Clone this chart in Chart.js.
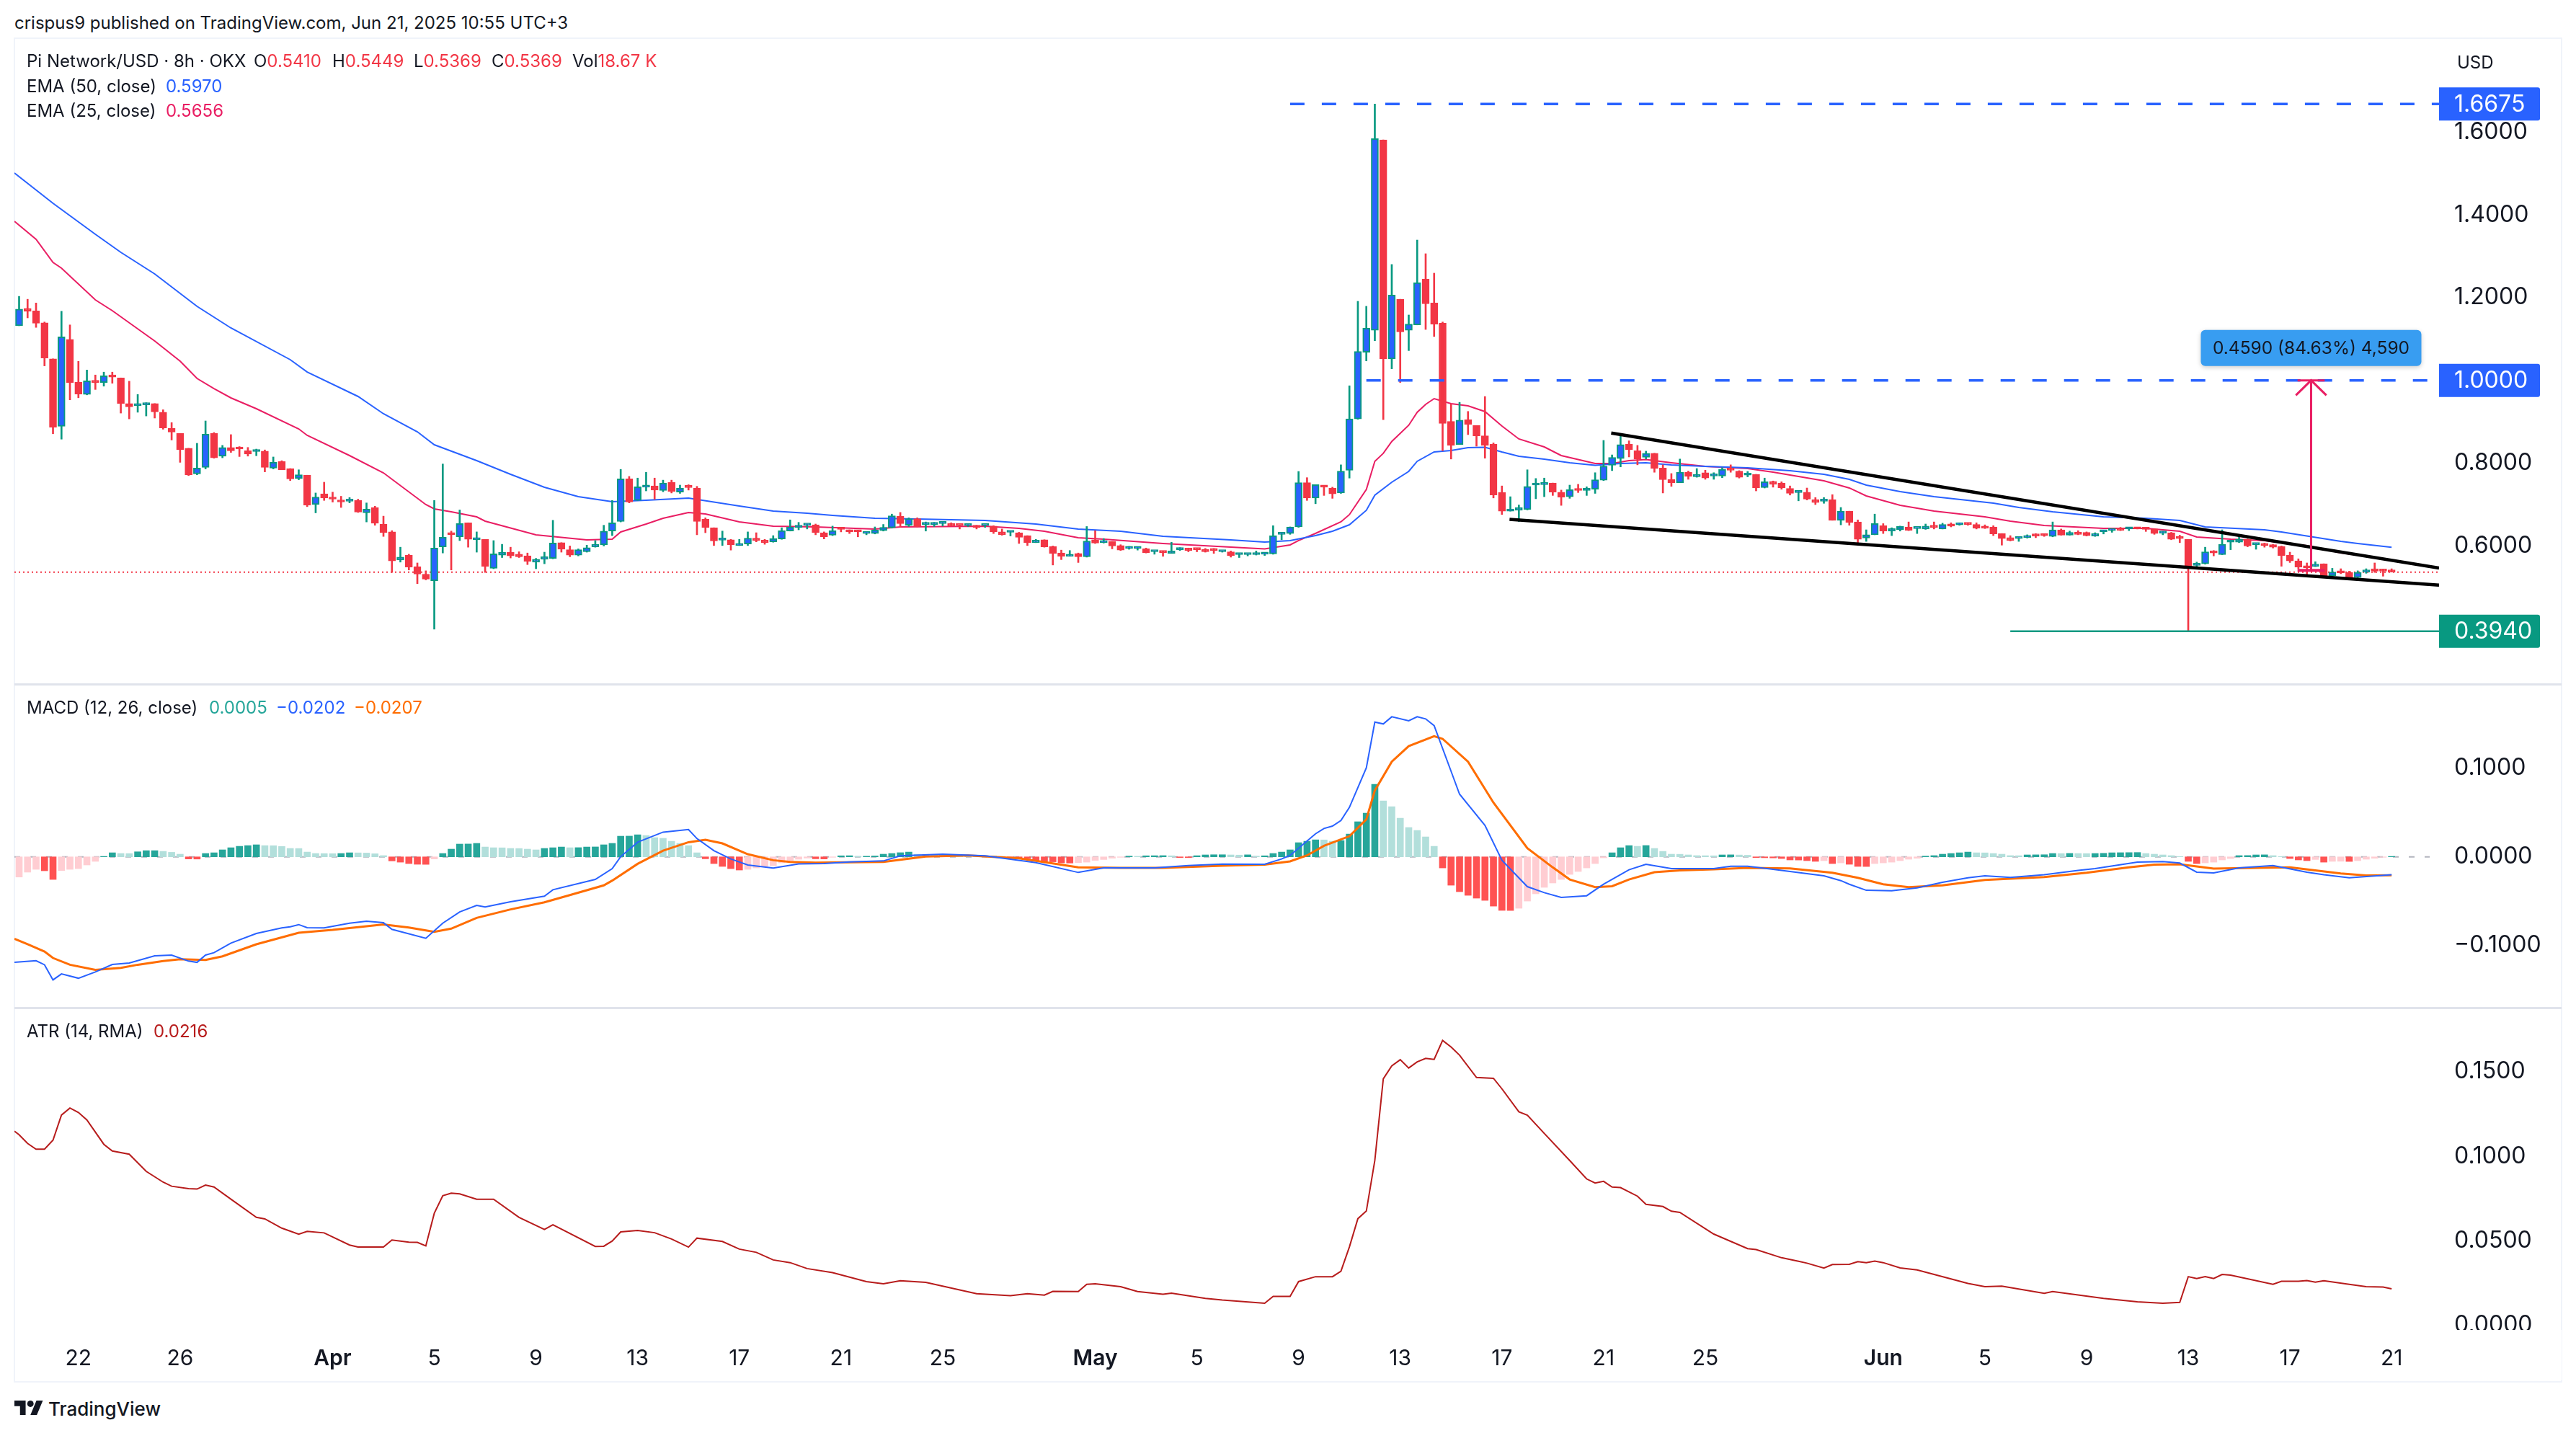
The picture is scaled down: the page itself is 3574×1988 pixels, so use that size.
<!DOCTYPE html>
<html>
<head>
<meta charset="utf-8">
<title>Pi Network/USD</title>
<script src="https://cdn.jsdelivr.net/npm/chart.js@4"></script>
<style>
  html, body { margin: 0; padding: 0; background: #fff; }
  body { width: 3574px; height: 1988px; position: relative; overflow: hidden; font-family: Inter, sans-serif; color: #131722; }
  #frame { position: absolute; left: 19px; top: 52px; width: 3536px; height: 1866px; box-sizing: border-box; border: 2px solid #F0F3FA; }
  canvas { position: absolute; left: 20px; top: 53px; }
  .t { position: absolute; line-height: 0; white-space: pre; font-size: 24px; }
  #logo { position: absolute; left: 20px; top: 1943px; }
</style>
</head>
<body>
<div id="frame"></div>
<canvas id="grafico" width="3534" height="1864"></canvas>

<div class="t" style="left:20px;top:32px;font-size:24px">crispus9 published on TradingView.com, Jun 21, 2025 10:55 UTC+3</div>

<div class="t" style="left:37px;top:85px">Pi Network/USD · 8h · OKX</div>
<div class="t" style="left:352px;top:85px">O<span style="color:#F23645">0.5410</span></div>
<div class="t" style="left:461px;top:85px">H<span style="color:#F23645">0.5449</span></div>
<div class="t" style="left:574px;top:85px">L<span style="color:#F23645">0.5369</span></div>
<div class="t" style="left:682px;top:85px">C<span style="color:#F23645">0.5369</span></div>
<div class="t" style="left:794px;top:85px">Vol<span style="color:#F23645">18.67 K</span></div>
<div class="t" style="left:37px;top:120px">EMA (50, close)</div>
<div class="t" style="left:230px;top:120px;color:#2962FF">0.5970</div>
<div class="t" style="left:37px;top:154px">EMA (25, close)</div>
<div class="t" style="left:230px;top:154px;color:#E91E63">0.5656</div>
<div class="t" style="left:3409px;top:87px">USD</div>

<div class="t" style="left:37px;top:982px">MACD (12, 26, close)</div>
<div class="t" style="left:290px;top:982px;color:#26A69A">0.0005</div>
<div class="t" style="left:383px;top:982px;color:#2962FF">−0.0202</div>
<div class="t" style="left:491px;top:982px;color:#FF6D00">−0.0207</div>

<div class="t" style="left:37px;top:1431px">ATR (14, RMA)</div>
<div class="t" style="left:213px;top:1431px;color:#B71C1C">0.0216</div>

<svg id="logo" width="40" height="20" viewBox="0 4 36 18"><path fill="#131722" d="M14 22H7V11H0V4h14v18zM28 22h-8l7.5-18h8L28 22z"/><circle fill="#131722" cx="20" cy="8" r="4"/></svg>
<div class="t" style="left:67px;top:1955px;font-size:26px;font-weight:500">TradingView</div>

<script>
// velas de 8h, uma posicao por candle (0 = primeira da tela)
const opens = [
  1.132,1.174,1.168,1.139,1.052,.889,1.099,.996,.966,.998,
  .995,1.011,1.006,.944,.939,.941,.944,.923,.884,.872,
  .836,.774,.790,.872,.817,.838,.836,.830,.828,.829,
  .788,.804,.787,.763,.771,.700,.726,.716,.710,.708,
  .710,.680,.693,.653,.634,.566,.578,.550,.532,.516,
  .598,.630,.622,.656,.615,.616,.546,.578,.585,.580,
  .576,.561,.568,.570,.608,.591,.578,.586,.598,.603,
  .636,.659,.762,.710,.742,.745,.734,.754,.730,.744,
  .740,.665,.644,.614,.615,.601,.605,.619,.614,.610,
  .617,.636,.645,.650,.651,.632,.626,.642,.637,.637,
  .630,.630,.637,.644,.672,.650,.666,.652,.652,.654,
  .654,.651,.649,.650,.649,.648,.634,.633,.632,.625,
  .608,.615,.599,.583,.575,.582,.574,.615,.608,.611,
  .601,.594,.594,.593,.586,.586,.582,.591,.595,.593,
  .592,.591,.586,.586,.579,.579,.579,.580,.581,.628,
  .630,.646,.753,.716,.744,.740,.728,.783,.907,1.068,
  1.121,1.581,1.052,1.196,1.121,1.134,1.245,1.187,1.138,.901,
  .845,.905,.891,.866,.846,.729,.684,.686,.688,.747,
  .748,.752,.730,.719,.736,.734,.737,.759,.795,.811,
  .846,.830,.814,.824,.788,.761,.753,.778,.767,.777,
  .769,.769,.785,.781,.771,.773,.741,.756,.752,.739,
  .729,.730,.712,.708,.712,.662,.684,.658,.619,.627,
  .649,.636,.639,.646,.642,.641,.648,.641,.651,.651,
  .654,.652,.645,.646,.630,.620,.618,.620,.627,.627,
  .623,.639,.626,.633,.633,.624,.634,.637,.643,.641,
  .643,.641,.641,.631,.632,.620,.616,.553,.557,.586,
  .579,.609,.609,.616,.603,.604,.603,.599,.578,.564,
  .550,.551,.557,.528,.540,.536,.524,.537,.545,.541,
  .5410
];
const highs = [
  1.203,1.196,1.187,1.141,1.052,1.167,1.134,1.046,1.025,1.013,
  1.020,1.020,1.006,.998,.966,.946,.944,.929,.898,.872,
  .836,.848,.902,.874,.843,.869,.840,.838,.834,.832,
  .815,.806,.787,.784,.771,.728,.754,.730,.720,.717,
  .713,.704,.696,.672,.637,.597,.580,.559,.540,.710,
  .798,.636,.687,.656,.634,.616,.613,.604,.597,.586,
  .583,.570,.585,.662,.608,.600,.593,.602,.613,.650,
  .710,.785,.768,.764,.778,.764,.759,.759,.747,.748,
  .744,.668,.644,.636,.616,.616,.634,.632,.616,.625,
  .644,.663,.657,.653,.653,.634,.648,.645,.639,.637,
  .634,.646,.652,.677,.681,.668,.668,.658,.657,.658,
  .656,.651,.652,.650,.651,.649,.641,.635,.633,.625,
  .616,.615,.600,.590,.589,.583,.647,.637,.618,.611,
  .603,.599,.597,.595,.588,.588,.609,.596,.595,.594,
  .594,.594,.588,.588,.582,.581,.588,.583,.649,.633,
  .646,.780,.765,.748,.746,.742,.796,.987,1.191,1.179,
  1.6675,1.581,1.280,1.196,1.158,1.339,1.306,1.259,1.141,.943,
  .947,.925,.891,.961,.849,.745,.719,.699,.784,.763,
  .764,.752,.735,.747,.749,.743,.777,.855,.820,.867,
  .854,.843,.829,.824,.796,.775,.810,.781,.787,.783,
  .777,.789,.796,.782,.780,.773,.764,.757,.755,.745,
  .733,.740,.717,.717,.724,.693,.684,.663,.639,.677,
  .654,.644,.648,.658,.644,.653,.658,.655,.656,.656,
  .655,.656,.651,.649,.630,.625,.622,.627,.630,.629,
  .658,.641,.636,.637,.634,.632,.637,.641,.645,.645,
  .643,.641,.642,.635,.633,.626,.616,.561,.597,.589,
  .639,.612,.622,.617,.606,.607,.604,.600,.585,.569,
  .559,.562,.557,.546,.545,.539,.540,.545,.559,.543,
  .5449
];
const lows = [
  1.132,1.151,1.128,1.035,.871,.858,.953,.958,.965,.978,
  .986,.993,.921,.907,.923,.914,.909,.882,.856,.802,
  .770,.772,.786,.812,.813,.826,.816,.817,.818,.779,
  .786,.784,.758,.760,.695,.680,.710,.706,.693,.704,
  .681,.658,.650,.623,.536,.561,.542,.509,.518,.399,
  .583,.542,.613,.597,.585,.536,.545,.572,.571,.572,
  .555,.545,.557,.569,.585,.574,.576,.585,.597,.600,
  .625,.658,.704,.710,.733,.713,.731,.728,.727,.735,
  .627,.632,.601,.601,.590,.601,.601,.610,.604,.609,
  .616,.636,.639,.641,.627,.617,.625,.634,.630,.622,
  .627,.629,.636,.643,.645,.647,.646,.636,.647,.648,
  .648,.641,.647,.641,.645,.630,.626,.624,.606,.601,
  .608,.597,.554,.567,.575,.560,.573,.606,.607,.593,
  .589,.592,.590,.583,.580,.575,.582,.589,.586,.586,
  .585,.582,.585,.573,.572,.576,.578,.577,.580,.615,
  .628,.645,.710,.702,.722,.715,.727,.764,.906,1.047,
  1.096,.905,1.028,.995,1.072,1.134,1.123,1.106,.830,.810,
  .845,.869,.841,.812,.716,.676,.684,.659,.687,.714,
  .719,.722,.698,.715,.729,.722,.727,.758,.782,.791,
  .815,.796,.810,.778,.728,.744,.753,.761,.766,.761,
  .761,.765,.778,.764,.767,.733,.740,.742,.737,.723,
  .709,.711,.700,.703,.662,.651,.650,.602,.611,.627,
  .630,.625,.636,.637,.630,.640,.641,.641,.646,.650,
  .650,.641,.642,.625,.602,.612,.611,.619,.620,.623,
  .622,.626,.626,.627,.624,.623,.629,.633,.637,.637,
  .641,.635,.628,.627,.615,.608,.394,.549,.556,.576,
  .579,.591,.608,.598,.592,.597,.595,.551,.560,.545,
  .526,.550,.524,.528,.533,.523,.523,.534,.536,.527,
  .5369
];
const closes = [
  1.172,1.167,1.138,1.054,.887,1.105,.995,.967,.999,.995,
  1.011,1.008,.944,.936,.942,.944,.924,.885,.875,.833,
  .772,.788,.870,.813,.838,.830,.834,.822,.830,.790,
  .802,.784,.762,.772,.699,.718,.716,.713,.706,.710,
  .682,.689,.655,.632,.564,.573,.549,.532,.520,.595,
  .621,.627,.654,.616,.618,.551,.581,.585,.576,.574,
  .563,.568,.574,.607,.592,.578,.591,.596,.604,.636,
  .656,.762,.706,.743,.744,.735,.752,.732,.740,.741,
  .659,.645,.612,.618,.603,.604,.619,.613,.608,.618,
  .637,.646,.649,.652,.632,.622,.637,.640,.634,.634,
  .633,.639,.645,.673,.654,.666,.647,.655,.655,.656,
  .648,.649,.651,.645,.650,.634,.627,.635,.621,.608,
  .614,.598,.582,.575,.579,.574,.612,.607,.611,.600,
  .590,.597,.597,.584,.588,.584,.588,.595,.589,.591,
  .586,.589,.588,.577,.582,.581,.581,.583,.625,.632,
  .646,.753,.716,.748,.742,.726,.781,.907,1.070,1.126,
  1.584,1.052,1.206,1.117,1.136,1.236,1.185,1.136,.896,.843,
  .904,.894,.866,.843,.723,.684,.687,.693,.744,.750,
  .751,.730,.718,.736,.734,.740,.760,.793,.814,.845,
  .833,.810,.824,.787,.760,.753,.778,.768,.773,.764,
  .771,.785,.783,.766,.773,.740,.755,.749,.740,.727,
  .731,.713,.705,.710,.662,.684,.657,.616,.627,.654,
  .636,.642,.647,.638,.644,.648,.645,.652,.648,.653,
  .652,.643,.643,.629,.618,.613,.620,.625,.624,.625,
  .639,.626,.633,.628,.625,.630,.637,.639,.638,.643,
  .641,.640,.630,.633,.616,.618,.549,.555,.586,.583,
  .604,.611,.616,.600,.605,.601,.597,.577,.564,.549,
  .547,.554,.528,.537,.535,.524,.536,.542,.539,.539,
  .5369
];

const ema50Index = [-0.55,4,9,12,16,21,25,32,34,40,43,47,49,54,58,62,66,70,74,79,85,89,93,96,101,106,114,120,125,130,135,143,147,150,153,155,157,159,160,162,164,165,167,169,171,173,175,177,180,183,186,189,192,195,199,204,209,213,216,218,222,226,233,236,240,246,251,255,258,265,267,274,276,280];
const ema50Values = [1.5009,1.4278,1.3530,1.3094,1.2572,1.1788,1.1266,1.0500,1.0203,.9612,.9194,.8758,.8445,.8062,.7731,.7418,.7191,.7069,.7105,.7157,.6965,.6843,.6791,.6739,.6669,.6652,.6617,.6530,.6408,.6356,.6234,.6147,.6095,.6129,.6251,.6356,.6512,.6861,.7226,.7540,.7801,.8045,.8271,.8306,.8376,.8385,.8271,.8167,.8097,.8010,.7949,.7992,.8010,.7958,.7923,.7888,.7819,.7731,.7609,.7470,.7313,.7192,.7035,.6930,.6826,.6704,.6669,.6617,.6460,.6390,.6339,.6112,.6060,.5970];
const ema25Index = [-0.55,2,4,5,9,11,16,19,21,23,25,28,33,34,39,43,48,49,51,54,55,61,67,70,71,74,76,79,81,85,89,94,101,104,114,118,121,125,128,135,147,150,151,153,156,157,159,160,161,162,164,165,166,167,169,171,173,175,177,180,182,186,188,190,192,195,199,204,207,213,216,218,222,226,232,235,239,246,251,255,257,261,265,270,274,278,280];
const ema25Values = [1.3843,1.3408,1.2850,1.2711,1.1945,1.1684,1.0953,1.0465,1.0047,.9803,.9577,.9316,.8828,.8672,.8184,.7766,.7000,.6896,.6826,.6704,.6600,.6269,.6147,.6164,.6339,.6530,.6670,.6809,.6774,.6582,.6478,.6460,.6408,.6460,.6478,.6426,.6356,.6199,.6164,.6060,.5929,.6025,.6130,.6304,.6582,.6757,.7366,.8045,.8237,.8524,.8916,.9229,.9421,.9560,.9438,.9386,.9246,.8898,.8585,.8393,.8184,.7993,.7993,.8062,.8089,.8010,.7923,.7871,.7784,.7575,.7401,.7209,.6983,.6844,.6704,.6600,.6495,.6426,.6426,.6356,.6217,.6164,.6130,.6008,.5833,.5729,.5656];

const macdHist = [
  -.0228,-.0173,-.0141,-.0157,-.0255,-.0154,-.0141,-.0133,-.0092,-.0051,
  .0005,.0046,.0038,.0037,.0057,.0070,.0070,.0062,.0051,.0030,
  -.0024,-.0025,.0038,.0046,.0079,.0103,.0119,.0127,.0136,.0127,
  .0126,.0117,.0095,.0094,.0054,.0038,.0037,.0036,.0038,.0046,
  .0045,.0043,.0035,.0014,-.0046,-.0060,-.0076,-.0084,-.0085,-.0024,
  .0038,.0087,.0144,.0145,.0152,.0111,.0103,.0102,.0095,.0094,
  .0087,.0079,.0095,.0103,.0111,.0103,.0104,.0111,.0112,.0136,
  .0152,.0233,.0234,.0249,.0241,.0217,.0209,.0176,.0152,.0127,
  .0046,-.0022,-.0076,-.0108,-.0133,-.0149,-.0141,-.0125,-.0108,-.0100,
  -.0068,-.0046,-.0027,-.0014,-.0022,-.0024,-.0005,.0012,.0013,.0006,
  .0007,.0010,.0030,.0038,.0047,.0054,.0030,.0028,.0025,.0024,
  .0022,.0020,.0018,.0016,.0014,.0012,-.0008,-.0012,-.0018,-.0020,
  -.0040,-.0052,-.0056,-.0068,-.0070,-.0065,-.0060,-.0040,-.0030,-.0015,
  -.0005,.0008,.0006,.0012,.0013,.0014,.0012,-.0008,-.0009,.0013,
  .0022,.0024,.0024,.0022,.0020,.0023,.0008,.0012,.0038,.0054,
  .0079,.0160,.0176,.0192,.0191,.0176,.0184,.0257,.0396,.0493,
  .0818,.0631,.0566,.0436,.0331,.0298,.0225,.0119,-.0125,-.0320,
  -.0393,-.0434,-.0466,-.0491,-.0556,-.0604,-.0605,-.0580,-.0499,-.0417,
  -.0344,-.0295,-.0255,-.0198,-.0165,-.0125,-.0076,-.0011,.0046,.0103,
  .0127,.0119,.0128,.0095,.0062,.0030,.0029,.0022,.0014,.0013,
  .0012,.0022,.0023,.0021,.0018,-.0008,-.0010,-.0012,-.0019,-.0035,
  -.0036,-.0043,-.0051,-.0043,-.0076,-.0068,-.0084,-.0108,-.0109,-.0076,
  -.0068,-.0060,-.0043,-.0027,-.0016,.0008,.0014,.0030,.0038,.0046,
  .0054,.0046,.0045,.0038,.0030,.0014,.0013,.0022,.0023,.0024,
  .0038,.0037,.0039,.0038,.0037,.0038,.0040,.0046,.0047,.0048,
  .0049,.0038,.0030,.0022,.0014,.0003,-.0051,-.0076,-.0068,-.0060,
  -.0035,-.0019,.0014,.0015,.0022,.0023,.0014,.0003,-.0019,-.0035,
  -.0043,-.0030,-.0060,-.0051,-.0050,-.0052,-.0043,-.0027,-.0016,-.0005,
  .0005
];
const macdIndex = [-0.55,2,3,4,5,7,9,11,13,16,18,20,21,22,23,25,28,31,32,33,34,36,39,41,43,44,48,50,52,54,55,58,62,63,68,70,71,73,76,79,80,82,84,86,89,92,95,98,102,104,109,114,120,125,128,134,138,142,147,149,150,153,154,155,156,157,159,160,161,162,164,165,166,167,169,170,173,175,178,180,182,185,187,190,192,195,200,202,204,207,213,215,216,218,221,224,227,230,232,235,239,243,245,250,253,255,257,259,262,266,270,272,275,280];
const macdValues = [-.1190,-.1171,-.1217,-.1388,-.1320,-.1369,-.1298,-.1214,-.1198,-.1117,-.1108,-.1176,-.1190,-.1108,-.1081,-.0973,-.0864,-.0802,-.0789,-.0764,-.0799,-.0802,-.0748,-.0726,-.0743,-.0818,-.0919,-.0748,-.0621,-.0547,-.0566,-.0507,-.0444,-.0371,-.0255,-.0133,.0003,.0165,.0279,.0309,.0206,.0070,-.0024,-.0092,-.0127,-.0079,-.0076,-.0057,-.0046,.0011,.0030,.0011,-.0065,-.0176,-.0125,-.0125,-.0098,-.0081,-.0084,-.0024,.0016,.0260,.0320,.0347,.0409,.0558,.1005,.1520,.1499,.1580,.1534,.1580,.1556,.1480,.0965,.0707,.0355,-.0038,-.0336,-.0404,-.0458,-.0439,-.0309,-.0146,-.0084,-.0133,-.0133,-.0106,-.0106,-.0141,-.0214,-.0268,-.0309,-.0377,-.0382,-.0350,-.0287,-.0236,-.0214,-.0233,-.0201,-.0152,-.0133,-.0060,-.0054,-.0070,-.0173,-.0182,-.0125,-.0098,-.0173,-.0201,-.0236,-.0202];
const signalIndex = [-0.55,1,3,4,6,9,12,14,17,19,22,24,28,33,37,43,46,49,51,54,58,62,65,69,70,73,76,79,81,83,86,89,91,94,102,107,112,118,121,125,130,135,142,147,150,152,154,157,159,160,162,164,167,168,171,174,178,181,183,186,188,190,193,196,200,204,209,214,217,220,223,227,232,239,244,249,252,255,259,264,268,274,277,280];
const signalValues = [-.0924,-.0986,-.1068,-.1141,-.1217,-.1274,-.1252,-.1217,-.1176,-.1154,-.1163,-.1122,-.0986,-.0856,-.0824,-.0762,-.0797,-.0846,-.0810,-.0688,-.0593,-.0512,-.0431,-.0322,-.0268,-.0079,.0070,.0165,.0192,.0152,.0030,-.0038,-.0057,-.0065,-.0057,.0003,.0016,-.0016,-.0060,-.0119,-.0125,-.0125,-.0100,-.0087,-.0051,.0016,.0125,.0233,.0423,.0748,.1073,.1249,.1360,.1331,.1073,.0612,.0098,-.0119,-.0255,-.0341,-.0331,-.0255,-.0173,-.0152,-.0141,-.0125,-.0130,-.0179,-.0236,-.0309,-.0341,-.0322,-.0260,-.0228,-.0179,-.0119,-.0087,-.0084,-.0133,-.0125,-.0119,-.0187,-.0209,-.0207];

const atrIndex = [-0.55,0,1,2,3,4,5,6,7,8,10,11,13,15,17,18,20,21,22,23,25,28,29,31,33,34,36,39,40,43,44,46,47,48,49,50,51,52,54,56,59,62,63,68,69,70,71,73,75,77,79,80,83,85,87,89,91,93,96,100,102,104,107,113,117,119,121,122,125,126,127,130,132,135,136,140,142,147,148,150,151,153,155,156,157,158,159,160,161,162,163,164,165,166,167,168,169,170,172,174,175,177,178,180,183,185,186,187,188,189,191,192,194,195,196,200,204,205,208,210,211,213,214,216,217,218,219,220,222,224,230,232,234,239,240,246,250,253,255,256,257,258,259,260,261,266,267,269,270,271,272,275,277,279,280];
const atrValues = [.1148,.1127,.1076,.1042,.1042,.1095,.1244,.1285,.1259,.1215,.1071,.1031,.1012,.0911,.0847,.0823,.0809,.0806,.0830,.0818,.0746,.0639,.0630,.0575,.0539,.0556,.0547,.0475,.0463,.0463,.0505,.0492,.0491,.0470,.0663,.0767,.0782,.0778,.0746,.0746,.0639,.0567,.0595,.0467,.0468,.0499,.0553,.0561,.0548,.0511,.0463,.0516,.0496,.0451,.0432,.0387,.0371,.0336,.0312,.0259,.0246,.0264,.0254,.0187,.0176,.0187,.0179,.0201,.0200,.0243,.0246,.0229,.0200,.0184,.0190,.0160,.0150,.0131,.0171,.0171,.0259,.0288,.0288,.0320,.0464,.0631,.0676,.0975,.1458,.1534,.1571,.1522,.1558,.1579,.1573,.1685,.1646,.1598,.1466,.1461,.1399,.1263,.1243,.1135,.0975,.0866,.0842,.0852,.0818,.0815,.0764,.0716,.0703,.0675,.0668,.0540,.0454,.0448,.0400,.0379,.0368,.0339,.0360,.0361,.0377,.0371,.0380,.0371,.0340,.0328,.0248,.0229,.0232,.0189,.0200,.0160,.0139,.0131,.0136,.0288,.0277,.0288,.0277,.0301,.0297,.0243,.0261,.0261,.0265,.0256,.0264,.0243,.0229,.0227,.0216];

const priceTicks = [1.6, 1.4, 1.2, .8, .6];
const macdTicks = [.1, 0, -.1];
const atrTicks = [.15, .1, .05, 0];
const timeTickIndex = [7,19,37,49,61,73,85,97,109,127,139,151,163,175,187,199,220,232,244,256,268,280];
const timeTickLabels = ['22','26','Apr','5','9','13','17','21','25','May','5','9','13','17','21','25','Jun','5','9','13','17','21'];
const monthLabels = ['Apr','May','Jun'];

const lastClose = .5369;
const highLevel = 1.6675, targetLevel = 1, lowLevel = .394;
const upperTrendIndex = [187.9, 285.6], upperTrendValues = [.8729, .5468];
const lowerTrendIndex = [175.9, 285.6], lowerTrendValues = [.6643, .5055];
const measureFrom = .541, measureIndex = 270.5;

const fonte = 'Inter, sans-serif';
const COR_ALTA = '#089981', COR_BAIXA = '#F23645', COR_CORPO = '#2962FF', COR_AZUL = '#2962FF';

function paraPontos(xs, ys) {
  return xs.map((x, i) => ({ x: x, y: ys[i] }));
}

function formatar(v) {
  return (v < 0 ? '−' : '') + Math.abs(v).toFixed(4);
}

// cor do histograma segundo a variacao em relacao a barra anterior
function corHistograma(i) {
  const v = macdHist[i], ant = i > 0 ? macdHist[i - 1] : v;
  if (v >= 0) return v >= ant ? '#26A69A' : '#B2DFDB';
  return v < ant ? '#FF5252' : '#FFCDD2';
}

function linha(yAxisID, data, cor, largura, order, extra) {
  return Object.assign({
    type: 'line', yAxisID, data, borderColor: cor, borderWidth: largura,
    pointRadius: 0, tension: 0, order, fill: false
  }, extra || {});
}

const rightEdge = 285.6, leftEdge = -0.553;

const velas = opens.map((o, i) => ({ x: i, y: [o, closes[i]] }));
const pavios = highs.map((h, i) => ({ x: i, y: [lows[i], h] }));
const sobe = i => closes[i] >= opens[i];

const datasets = [
  linha('y', paraPontos([measureIndex, measureIndex], [measureFrom, targetLevel]), '#E91E63', 3, 0),
  linha('y', paraPontos([268.9, 272.1], [targetLevel, targetLevel]), '#E91E63', 3, 0),
  linha('y', paraPontos([268.9, 272.1], [measureFrom, measureFrom]), '#E91E63', 4, 0),
  linha('y', paraPontos([measureIndex - 1.8, measureIndex, measureIndex + 1.8], [.964, targetLevel, .964]), '#E91E63', 3, 0),
  linha('y', paraPontos(upperTrendIndex, upperTrendValues), '#000000', 4.5, 1),
  linha('y', paraPontos(lowerTrendIndex, lowerTrendValues), '#000000', 4.5, 1),
  linha('y', paraPontos([150, rightEdge], [highLevel, highLevel]), COR_AZUL, 3.5, 2, { borderDash: [20, 24] }),
  linha('y', paraPontos([159, rightEdge], [targetLevel, targetLevel]), COR_AZUL, 3.5, 2, { borderDash: [20, 24] }),
  linha('y', paraPontos([235, rightEdge], [lowLevel, lowLevel]), COR_ALTA, 2.5, 2),
  {
    type: 'bar', yAxisID: 'y', data: velas, order: 3, grouped: false, barThickness: 10, minBarLength: 3,
    borderWidth: 2, borderSkipped: false,
    backgroundColor: ctx => sobe(ctx.dataIndex) ? COR_CORPO : COR_BAIXA,
    borderColor: ctx => sobe(ctx.dataIndex) ? COR_ALTA : COR_BAIXA
  },
  {
    type: 'bar', yAxisID: 'y', data: pavios, order: 4, grouped: false, barThickness: 2, borderWidth: 0,
    backgroundColor: ctx => sobe(ctx.dataIndex) ? COR_ALTA : COR_BAIXA
  },
  linha('y', paraPontos(ema50Index, ema50Values), COR_AZUL, 2, 5),
  linha('y', paraPontos(ema25Index, ema25Values), '#E91E63', 2, 6),
  linha('y', paraPontos([leftEdge, rightEdge], [lastClose, lastClose]), COR_BAIXA, 2, 7, { borderDash: [2, 4] }),

  linha('yMacd', paraPontos(macdIndex, macdValues), COR_AZUL, 2, 8),
  linha('yMacd', paraPontos(signalIndex, signalValues), '#FF6D00', 3, 8),
  {
    type: 'bar', yAxisID: 'yMacd', data: macdHist.map((v, i) => ({ x: i, y: v })), order: 9, grouped: false,
    barThickness: 9, borderWidth: 0, backgroundColor: ctx => corHistograma(ctx.dataIndex)
  },
  linha('yMacd', paraPontos([leftEdge, 284.5], [0, 0]), '#B2B5BE', 2, 10, { borderDash: [8, 14] }),

  linha('yAtr', paraPontos(atrIndex, atrValues), '#B71C1C', 2, 8)
];

function eixoY(peso, min, max, marcas) {
  return {
    type: 'linear', position: 'right', stack: 'paineis', stackWeight: peso, min, max,
    grid: { display: false, drawTicks: false }, border: { display: false },
    afterFit: s => { s.width = 170; },
    afterBuildTicks: s => { s.ticks = marcas.map(v => ({ value: v })); },
    ticks: { color: '#131722', font: { family: fonte, size: 32 }, padding: 21, autoSkip: false, callback: formatar }
  };
}

// caixas de preco do eixo, separadores dos paineis e rotulo da medicao
const sobreposicao = {
  id: 'sobreposicao',
  // o empilhamento reserva margem para os rotulos: fixa as faixas de cada painel
  afterLayout(chart) {
    const a = chart.chartArea, sc = chart.scales;
    a.left = 0; a.right = 3364; a.width = 3364;
    a.top = 0; a.bottom = 1792; a.height = 1792;
    [['y', 0, 896], ['yMacd', 896, 1345], ['yAtr', 1345, 1792]].forEach(([id, topo, base]) => {
      const s = sc[id];
      s.top = topo; s.bottom = base; s.height = base - topo;
      s.left = 3364; s.right = 3534;
      s.configure();
    });
    sc.x.left = 0; sc.x.right = 3364; sc.x.width = 3364;
    sc.x.top = 1792; sc.x.bottom = 1864; sc.x.height = 72;
    sc.x.configure();
  },
  afterDraw(chart) {
    const c = chart.ctx, area = chart.chartArea, y = chart.scales.y;
    c.save();
    c.fillStyle = '#E0E3EB';
    c.fillRect(0, y.bottom - 1, chart.width, 3);
    c.fillRect(0, chart.scales.yMacd.bottom - 1, chart.width, 3);
    c.fillStyle = '#FFFFFF';
    c.fillRect(area.right, area.bottom, 170, 70);

    [[highLevel, COR_AZUL], [targetLevel, COR_AZUL], [lowLevel, COR_ALTA]].forEach(([v, cor]) => {
      const py = y.getPixelForValue(v);
      c.fillStyle = cor;
      c.beginPath();
      c.roundRect(area.right, py - 23, 140, 46, [0, 3, 3, 0]);
      c.fill();
      c.fillStyle = '#FFFFFF';
      c.font = '32px ' + fonte;
      c.textAlign = 'left';
      c.textBaseline = 'middle';
      c.fillText(v.toFixed(4), area.right + 21, py + 1);
    });

    const mx = chart.scales.x.getPixelForValue(measureIndex);
    const my = y.getPixelForValue(targetLevel);
    c.shadowColor = 'rgba(0,0,0,.2)';
    c.shadowBlur = 6;
    c.shadowOffsetY = 2;
    c.fillStyle = '#389DF1';
    c.beginPath();
    c.roundRect(mx - 153, my - 70, 306, 50, 6);
    c.fill();
    c.shadowColor = 'transparent';
    c.fillStyle = '#131722';
    c.font = '24.5px ' + fonte;
    c.textAlign = 'center';
    c.fillText('0.4590 (84.63%) 4,590', mx, my - 44);
    c.restore();
  }
};

new Chart(document.getElementById('grafico'), {
  data: { datasets },
  plugins: [sobreposicao],
  options: {
    responsive: false,
    devicePixelRatio: 1,
    animation: false,
    events: [],
    layout: { padding: 0 },
    plugins: { legend: { display: false }, tooltip: { enabled: false } },
    scales: {
      x: {
        type: 'linear', min: leftEdge, max: rightEdge, offset: false,
        grid: { display: false, drawTicks: false }, border: { display: false },
        afterFit: s => { s.height = 72; },
        afterBuildTicks: s => { s.ticks = timeTickIndex.map(v => ({ value: v })); },
        ticks: {
          autoSkip: false, maxRotation: 0, padding: 22, color: '#131722',
          callback: (v) => timeTickLabels[timeTickIndex.indexOf(v)],
          font: ctx => {
            const rotulo = timeTickLabels[ctx.index];
            return { family: fonte, size: 30, weight: monthLabels.includes(rotulo) ? '600' : '400' };
          }
        }
      },
      y: eixoY(896, .2664, 1.8266, priceTicks),
      yMacd: eixoY(449, -.17016, .19488, macdTicks),
      yAtr: eixoY(447, -.00269, .18785, atrTicks)
    }
  }
});
</script>
</body>
</html>
